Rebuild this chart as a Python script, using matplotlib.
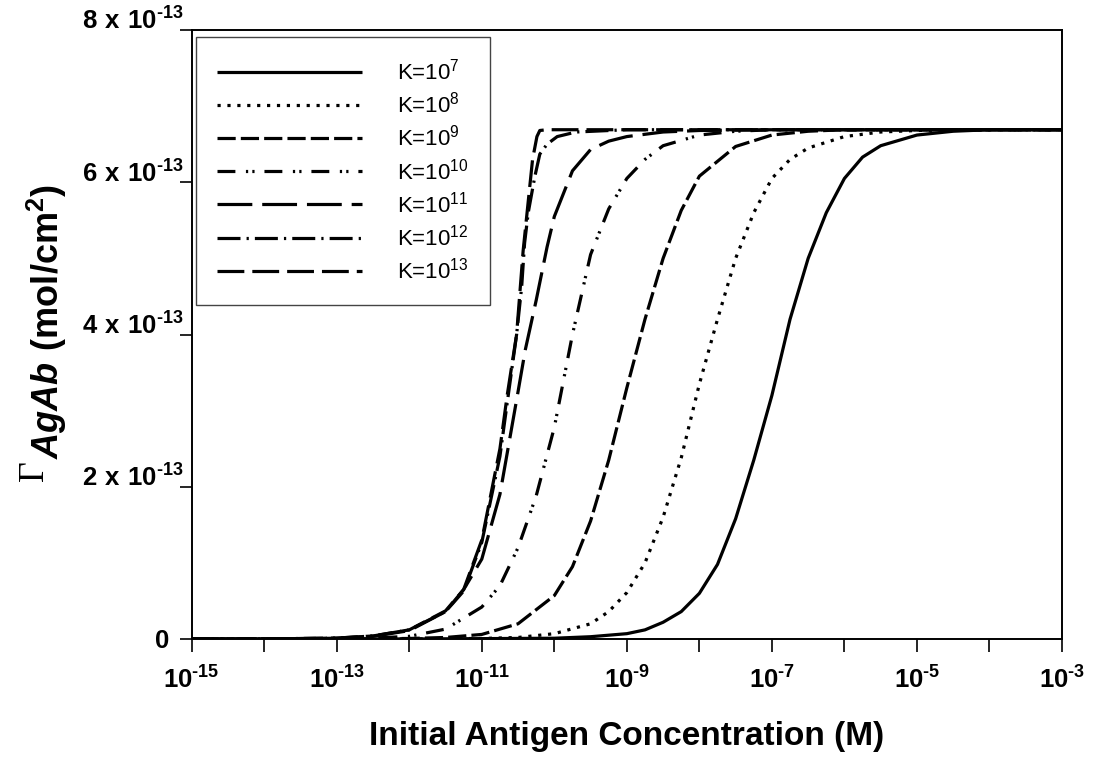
import numpy as np
import matplotlib
matplotlib.use('Agg')
import matplotlib.pyplot as plt

# ---------------- data (log10 of concentration in M, Gamma in units of 1e-13 mol/cm^2) ----------------
logc_k7 = [-15, -12, -11, -10, -9.5, -9, -8.75, -8.5, -8.25, -8, -7.75, -7.5, -7.25, -7, -6.75,
           -6.5, -6.25, -6, -5.75, -5.5, -5, -4.5, -4, -3]
gam_k7 = [0, 0.0005, 0.005, 0.01, 0.03, 0.07, 0.12, 0.22, 0.36, 0.60, 0.98, 1.58, 2.35, 3.2, 4.2,
          5.0, 5.6, 6.05, 6.33, 6.48, 6.62, 6.67, 6.69, 6.69]

logc_k8 = [-15, -12, -11, -10.5, -10, -9.5, -9.25, -9, -8.75, -8.5, -8.25, -8, -7.75, -7.5, -7.25,
           -7, -6.75, -6.5, -6, -5.5, -5, -4, -3]
gam_k8 = [0, 0.001, 0.007, 0.02, 0.07, 0.2, 0.36, 0.61, 1.0, 1.6, 2.38, 3.35, 4.2, 5.0, 5.6,
          6.05, 6.3, 6.45, 6.6, 6.66, 6.68, 6.69, 6.69]

logc_k9 = [-15, -13, -12, -11.5, -11, -10.5, -10, -9.75, -9.5, -9.25, -9, -8.75, -8.5, -8.25, -8,
           -7.5, -7, -6.5, -6, -3]
gam_k9 = [0, 0.001, 0.007, 0.02, 0.06, 0.2, 0.57, 0.95, 1.55, 2.35, 3.3, 4.2, 5.0, 5.63, 6.08,
          6.47, 6.62, 6.67, 6.69, 6.69]

logc_k10 = [-15, -13, -12.5, -12, -11.5, -11, -10.75, -10.5, -10.25, -10, -9.75, -9.5, -9.25, -9,
            -8.75, -8.5, -8, -7.5, -7, -3]
gam_k10 = [0, 0.004, 0.012, 0.035, 0.13, 0.42, 0.7, 1.2, 1.88, 2.78, 4.0, 5.05, 5.65, 6.05,
           6.3, 6.48, 6.62, 6.67, 6.69, 6.69]

logc_k11 = [-15, -14, -13, -12.5, -12, -11.5, -11.25, -11, -10.75, -10.5, -10.4, -10.25, -10.1,
            -10, -9.75, -9.5, -9.25, -9, -8.5, -8, -7, -3]
gam_k11 = [0, 0.001, 0.01, 0.035, 0.11, 0.36, 0.65, 1.05, 1.9, 3.25, 3.8, 4.45, 5.15,
           5.55, 6.15, 6.43, 6.54, 6.6, 6.66, 6.68, 6.69, 6.69]

logc_k12 = [-15, -14, -13, -12.5, -12, -11.5, -11.25, -11, -10.75, -10.65, -10.52, -10.45, -10.41,
            -10.36, -10.27, -10.2, -10.1, -9.96, -9.7, -9, -3]
gam_k12 = [0, 0.001, 0.012, 0.04, 0.12, 0.36, 0.63, 1.27, 2.4, 3.1, 4.0, 4.63, 5.2,
           5.6, 6.07, 6.37, 6.5, 6.6, 6.66, 6.69, 6.69]

logc_k13 = [-15, -14, -13, -12.5, -12, -11.5, -11.25, -11, -10.75, -10.65, -10.52, -10.43, -10.3,
            -10.24, -10.2, -10.1, -9, -3]
gam_k13 = [0, 0.001, 0.012, 0.04, 0.12, 0.37, 0.65, 1.3, 2.5, 3.2, 4.0, 5.1, 6.3,
           6.6, 6.68, 6.69, 6.69, 6.69]

series_logc = [logc_k7, logc_k8, logc_k9, logc_k10, logc_k11, logc_k12, logc_k13]
series_gam = [gam_k7, gam_k8, gam_k9, gam_k10, gam_k11, gam_k12, gam_k13]
k_exponents = ['7', '8', '9', '10', '11', '12', '13']

x_decades = list(range(-15, -2))
y_tick_vals = [0, 2, 4, 6, 8]

# ---------------- styles ----------------
line_styles = ['-', (0, (1, 2.1)), (0, (5.7, 1.6)), (0, (5.6, 3.3, 0.7, 1.3, 0.7, 3.1)),
               (0, (10.9, 3.1)), (0, (7.2, 1.9, 0.7, 1.9)), (0, (8.4, 2.5))]

plt.rcParams['font.family'] = ['Liberation Sans', 'DejaVu Sans']
plt.rcParams['mathtext.fontset'] = 'custom'
plt.rcParams['mathtext.rm'] = 'Liberation Sans'
plt.rcParams['mathtext.bf'] = 'Liberation Sans:bold'
plt.rcParams['mathtext.bfit'] = 'Liberation Sans:bold:italic'

HY = '\u2010'  # short hyphen used in the exponents

fig = plt.figure(figsize=(10.96, 7.62), dpi=100)
ax = fig.add_axes([191.7 / 1096, 1 - 639 / 762, (1062 - 191.7) / 1096, (639 - 30) / 762])

handles = []
for lc, g, ls, ke in zip(series_logc, series_gam, line_styles, k_exponents):
    x = 10.0 ** np.array(lc)
    y = np.array(g) * 1e-13
    h, = ax.plot(x, y, color='black', lw=2.3, linestyle=ls, dash_capstyle='butt',
                 solid_capstyle='butt', label='K=10$^{%s}$' % ke)
    handles.append(h)

ax.set_xscale('log')
ax.set_xlim(1e-15, 1e-3)
ax.set_ylim(0, 8e-13)

xt = [10.0 ** d for d in x_decades]
xl = [(r'$\mathbf{10^{%s%d}}$' % (HY, -d)) if (d % 2 != 0) else '' for d in x_decades]
ax.set_xticks(xt)
ax.set_xticklabels(xl)
ax.xaxis.set_minor_locator(matplotlib.ticker.NullLocator())

yt = [v * 1e-13 for v in y_tick_vals]
yl = ['0  ' if v == 0 else (r'$\mathbf{%d\ x\ 10^{%s13}}$' % (v, HY)) for v in y_tick_vals]
ax.set_yticks(yt)
ax.set_yticklabels(yl)

ax.tick_params(axis='x', direction='out', length=9, width=1.2, labelsize=18.5, pad=11)
ax.tick_params(axis='y', direction='out', length=9, width=1.2, labelsize=18.5, pad=-3)
for t in ax.get_yticklabels():
    t.set_fontweight('bold')
    if t.get_text().strip() != '0':
        t.set_va('baseline')

for sp in ax.spines.values():
    sp.set_linewidth(1.4)
    sp.set_color('black')

fig.text(627 / 1096, 1 - 736 / 762, 'Initial Antigen Concentration (M)', fontsize=24,
         fontweight='bold', ha='center', va='center')

fig.text(47 / 1096, 1 - 322 / 762, r'$\mathbfit{AgAb}\ \mathbf{(mol/cm^2)}$', rotation=90,
         ha='center', va='center', fontsize=26)
fig.text(34 / 1096, 1 - 471 / 762, '\u0393', rotation=90, ha='center', va='center',
         fontsize=26, family=['Liberation Serif', 'DejaVu Serif'])

leg = ax.legend(handles=handles, loc='upper left', bbox_to_anchor=(0.005, 0.988),
                borderaxespad=0, fontsize=16, handlelength=6.5, handletextpad=1.6,
                labelspacing=0.33, borderpad=0.95, fancybox=False, edgecolor='#444444',
                framealpha=1)
leg.get_frame().set_linewidth(1.0)

fig.savefig('out.png', dpi=100)
